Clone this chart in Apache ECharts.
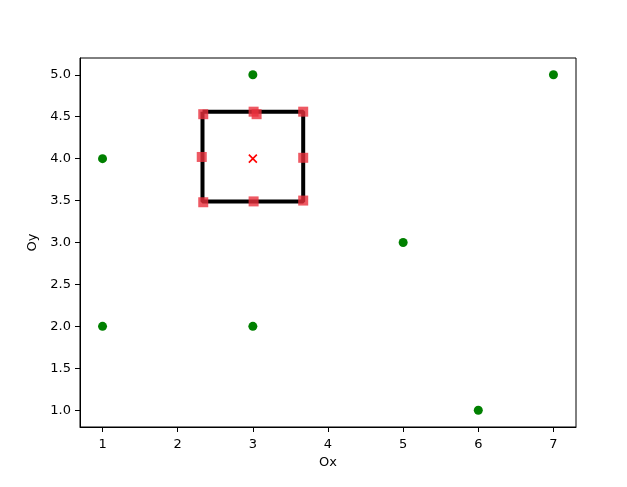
<!DOCTYPE html>
<html>
<head>
<meta charset="utf-8">
<script src="https://cdn.jsdelivr.net/npm/echarts@6/dist/echarts.min.js"></script>
<style>
html,body{margin:0;padding:0;background:#fff;}
#chart{width:627px;height:487px;}
</style>
</head>
<body>
<div id="chart"></div>
<script>
// Data
const greenX = [1, 1, 3, 3, 5, 6, 7];
const greenY = [4, 2, 5, 2, 3, 1, 5];
const centerX = [3];
const centerY = [4];
const boxX = [2.33, 3.67, 3.67, 2.33, 2.33];
const boxY = [4.56, 4.56, 3.49, 3.49, 4.56];
const markX = [2.34, 3.01, 3.05, 3.67, 2.32, 3.67, 2.34, 3.01, 3.67];
const markY = [4.53, 4.56, 4.53, 4.56, 4.02, 4.01, 3.48, 3.49, 3.50];
const xTicks = [1, 2, 3, 4, 5, 6, 7];
const yTicks = [1.0, 1.5, 2.0, 2.5, 3.0, 3.5, 4.0, 4.5, 5.0];

const zip = (a, b) => a.map((v, i) => [v, b[i]]);
const font = 'DejaVu Sans';

const chart = echarts.init(document.getElementById('chart'), null, {renderer: 'canvas'});
chart.setOption({
  animation: false,
  backgroundColor: '#fff',
  grid: {left: 80, right: 51, top: 58, bottom: 60, show: true, borderColor: '#000', borderWidth: 1, backgroundColor: 'transparent'},
  xAxis: {
    type: 'value', min: 0.7, max: 7.3,
    name: 'Ox', nameLocation: 'middle', nameGap: 29,
    nameTextStyle: {fontFamily: font, fontSize: 13, color: '#000'},
    axisLine: {show: true, onZero: false, lineStyle: {color: '#000', width: 1}},
    axisTick: {show: true, inside: false, length: 5, lineStyle: {color: '#000'}, customValues: xTicks},
    axisLabel: {fontFamily: font, fontSize: 13, color: '#000', margin: 11, customValues: xTicks, formatter: v => String(v)},
    splitLine: {show: false}
  },
  yAxis: {
    type: 'value', min: 0.8, max: 5.2,
    name: 'Oy', nameLocation: 'middle', nameGap: 39, nameRotate: 90,
    nameTextStyle: {fontFamily: font, fontSize: 13, color: '#000'},
    axisLine: {show: true, onZero: false, lineStyle: {color: '#000', width: 1}},
    axisTick: {show: true, inside: false, length: 5, lineStyle: {color: '#000'}, customValues: yTicks},
    axisLabel: {fontFamily: font, fontSize: 13, color: '#000', margin: 9, customValues: yTicks, formatter: v => v.toFixed(1)},
    splitLine: {show: false}
  },
  series: [
    {
      type: 'scatter', data: zip(greenX, greenY), symbol: 'circle', symbolSize: 9,
      itemStyle: {color: '#008000', opacity: 1}, z: 3
    },
    {
      type: 'line', data: zip(boxX, boxY), showSymbol: false, symbol: 'none',
      lineStyle: {color: '#000', width: 4}, z: 4
    },
    {
      type: 'scatter', data: zip(markX, markY), symbol: 'rect', symbolSize: 10,
      itemStyle: {color: 'rgba(234,48,60,0.8)', opacity: 1}, z: 5
    },
    {
      type: 'scatter', data: zip(centerX, centerY), symbol: 'path://M0,0L10,10M10,0L0,10', symbolSize: 8,
      itemStyle: {color: 'none', borderColor: '#ff0000', borderWidth: 1.6, opacity: 1}, z: 6
    }
  ]
});
</script>
</body>
</html>
